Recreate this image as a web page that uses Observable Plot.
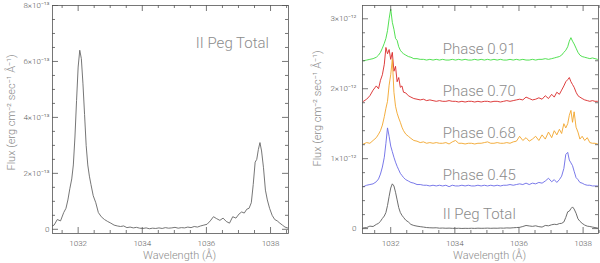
<!DOCTYPE html>
<html><head><meta charset="utf-8">
<script src="https://cdn.jsdelivr.net/npm/d3@7"></script>
<script src="https://cdn.jsdelivr.net/npm/@observablehq/plot@0.6"></script>
<style>
body{margin:0;background:#fff;}
#wrap{display:flex;width:600px;height:263px;}
#wrap svg{font-family:Roboto,"Noto Sans",sans-serif;font-weight:300;}
</style></head><body><div id="wrap"></div>
<script>
// Wavelength grid (Å)
const wavelength = [
1031.15,1031.25,1031.35,1031.45,1031.55,1031.62,1031.68,1031.74,1031.80,1031.85,
1031.90,1031.95,1032.00,1032.05,1032.10,1032.15,1032.20,1032.25,1032.30,1032.35,
1032.40,1032.47,1032.55,1032.63,1032.72,1032.82,1032.92,1033.02,1033.12,1033.22,
1033.32,1033.42,1033.52,1033.62,1033.72,1033.82,1033.92,1034.02,1034.12,1034.22,
1034.32,1034.42,1034.52,1034.62,1034.72,1034.82,1034.92,1035.02,1035.12,1035.22,
1035.32,1035.42,1035.52,1035.62,1035.72,1035.82,1035.92,1036.02,1036.12,1036.22,
1036.32,1036.42,1036.52,1036.62,1036.72,1036.82,1036.92,1037.02,1037.10,1037.18,
1037.26,1037.33,1037.40,1037.46,1037.52,1037.57,1037.62,1037.67,1037.72,1037.78,
1037.84,1037.90,1037.97,1038.05,1038.13,1038.21,1038.29,1038.37,1038.45,1038.53];

// II Peg total flux, units of 1e-13 erg cm^-2 s^-1 Å^-1
const totalFlux = [
0.10,0.15,0.35,0.30,0.60,0.75,1.05,1.45,1.80,2.30,
3.30,4.60,5.80,6.40,6.10,5.20,4.10,3.00,2.30,1.90,
1.60,1.20,0.95,0.60,0.45,0.35,0.28,0.22,0.15,0.12,
0.10,0.12,0.06,0.08,0.05,0.07,0.04,0.03,0.05,0.02,
0.04,0.03,0.05,0.03,0.06,0.04,0.05,0.07,0.04,0.06,
0.05,0.08,0.06,0.10,0.08,0.12,0.15,0.18,0.30,0.45,
0.38,0.32,0.40,0.28,0.22,0.45,0.40,0.55,0.62,0.58,
0.72,0.75,0.95,1.60,2.40,2.50,2.85,3.10,2.80,2.20,
1.40,1.05,0.75,0.50,0.35,0.30,0.22,0.15,0.08,0.05];

// Phase spectra, units of 1e-12 above their own baseline
const phase045 = [
0.00,0.02,0.03,0.04,0.07,0.11,0.18,0.28,0.42,0.62,
0.84,0.72,0.58,0.50,0.42,0.35,0.29,0.24,0.19,0.16,
0.13,0.10,0.08,0.06,0.05,0.03,0.03,0.02,0.02,0.01,
0.02,0.01,0.02,0.01,0.02,0.00,0.02,0.01,0.01,0.02,
0.01,0.02,0.01,0.01,0.02,0.01,0.02,0.01,0.02,0.01,
0.02,0.01,0.02,0.02,0.03,0.02,0.03,0.04,0.03,0.05,
0.03,0.05,0.04,0.06,0.05,0.08,0.12,0.07,0.10,0.06,
0.10,0.15,0.26,0.46,0.49,0.38,0.34,0.30,0.22,0.13,
0.10,0.06,0.05,0.03,0.02,0.02,0.01,0.01,0.01,0.01];
const phase068 = [
0.01,0.03,0.02,0.06,0.10,0.15,0.20,0.28,0.40,0.52,
0.62,0.85,1.00,1.22,0.75,0.55,0.45,0.38,0.32,0.25,
0.20,0.15,0.12,0.09,0.06,0.05,0.03,0.04,0.02,0.03,
0.02,0.03,0.02,0.02,0.03,0.01,0.04,0.06,0.02,0.02,
0.01,0.02,0.02,0.01,0.02,0.02,0.03,0.04,0.02,0.02,
0.03,0.02,0.02,0.03,0.02,0.04,0.05,0.12,0.06,0.10,
0.05,0.08,0.12,0.06,0.14,0.08,0.18,0.10,0.20,0.14,
0.22,0.16,0.30,0.24,0.30,0.42,0.49,0.32,0.47,0.25,
0.18,0.08,0.12,0.06,0.10,0.03,0.02,0.02,0.01,0.01];
const phase070 = [
0.02,0.05,0.10,0.18,0.24,0.20,0.32,0.40,0.55,0.79,
0.70,0.76,0.62,0.72,0.45,0.52,0.30,0.36,0.22,0.24,
0.15,0.14,0.10,0.08,0.06,0.05,0.04,0.05,0.03,0.04,
0.03,0.02,0.03,0.02,0.02,0.03,0.02,0.02,0.01,0.02,
0.01,0.02,0.02,0.01,0.02,0.01,0.02,0.02,0.01,0.02,
0.02,0.01,0.02,0.03,0.02,0.03,0.04,0.05,0.04,0.08,
0.06,0.04,0.05,0.07,0.05,0.10,0.06,0.12,0.08,0.15,
0.12,0.18,0.24,0.30,0.33,0.36,0.30,0.26,0.22,0.15,
0.10,0.08,0.06,0.04,0.03,0.02,0.03,0.02,0.02,0.01];
const phase091 = [
0.00,0.01,0.02,0.03,0.05,0.08,0.12,0.18,0.25,0.32,
0.43,0.60,0.74,0.55,0.45,0.32,0.29,0.20,0.15,0.12,
0.10,0.08,0.06,0.05,0.03,0.03,0.02,0.02,0.01,0.02,
0.01,0.02,0.01,0.02,0.01,0.01,0.02,0.01,0.02,0.01,
0.02,0.01,0.01,0.02,0.01,0.02,0.01,0.02,0.01,0.02,
0.01,0.02,0.01,0.01,0.02,0.01,0.02,0.01,0.02,0.01,
0.01,0.02,0.01,0.02,0.02,0.03,0.02,0.03,0.04,0.05,
0.06,0.08,0.12,0.15,0.20,0.28,0.33,0.28,0.24,0.18,
0.12,0.08,0.06,0.05,0.04,0.03,0.04,0.03,0.02,0.03];

const seriesNames   = ["II Peg Total","Phase 0.45","Phase 0.68","Phase 0.70","Phase 0.91"];
const seriesOffsets = [0, 0.6, 1.2, 1.8, 2.4];           // 1e-12
const seriesColors  = ["#5e5e5e","#6a6ae6","#f2a52a","#d92828","#40dc40"];
const drawOrder     = [0, 3, 2, 1, 4];

const xTicks = [1032, 1034, 1036, 1038];
const xMinor = [1031.5,1032.5,1033,1033.5,1034.5,1035,1035.5,1036.5,1037,1037.5,1038.5];
const leftYTicks = [0, 2, 4, 6, 8];
const leftYMinor = [0.5,1,1.5,2.5,3,3.5,4.5,5,5.5,6.5,7,7.5];
const rightYTicks = [0, 1, 2, 3];
const rightYMinor = [0.2,0.4,0.6,0.8,1.2,1.4,1.6,1.8,2.2,2.4,2.6,2.8];

const TICK = "#555", TXT = "#5a5a5a", LBL = "#8c8c8c";
const W = 300, H = 263;

function frameTicks(FW, FH) {
  return (xs, xm, ys, ym) => [
    Plot.tickX(xs, {x: d => d, insetTop: FH - 6, stroke: TICK, strokeWidth: 0.8}),
    Plot.tickX(xs, {x: d => d, insetBottom: FH - 6, stroke: TICK, strokeWidth: 0.8}),
    Plot.tickX(xm, {x: d => d, insetTop: FH - 3, stroke: TICK, strokeWidth: 0.8}),
    Plot.tickX(xm, {x: d => d, insetBottom: FH - 3, stroke: TICK, strokeWidth: 0.8}),
    Plot.tickY(ys, {y: d => d, insetRight: FW - 6, stroke: TICK, strokeWidth: 0.8}),
    Plot.tickY(ys, {y: d => d, insetLeft: FW - 6, stroke: TICK, strokeWidth: 0.8}),
    Plot.tickY(ym, {y: d => d, insetRight: FW - 3, stroke: TICK, strokeWidth: 0.8}),
    Plot.tickY(ym, {y: d => d, insetLeft: FW - 3, stroke: TICK, strokeWidth: 0.8})
  ];
}

const fluxTitle = "Flux (erg cm\u207B\u00B2 sec\u207B\u00B9 \u00C5\u207B\u00B9)";
const wlTitle = "Wavelength (\u00C5)";

// Left panel
{
  const mL = 52, mR = 12, mT = 5, mB = 30;
  const FW = W - mL - mR, FH = H - mT - mB;
  const rows = wavelength.map((w, i) => ({w, f: totalFlux[i]}));
  const p = Plot.plot({
    width: W, height: H, marginLeft: mL, marginRight: mR, marginTop: mT, marginBottom: mB,
    x: {domain: [1031.2, 1038.56]},
    y: {domain: [-0.15, 8.0]},
    marks: [
      Plot.line(rows, {x: "w", y: "f", stroke: "#666", strokeWidth: 0.9, clip: true}),
      Plot.text(["II Peg Total"], {x: 1035.67, y: 6.64, textAnchor: "start", fontSize: 15, fill: LBL}),
      ...frameTicks(FW, FH)(xTicks, xMinor, leftYTicks, leftYMinor),
      Plot.frame({stroke: TICK, strokeWidth: 0.8}),
      Plot.axisX(xTicks, {tickSize: 0, tickPadding: 7, fontSize: 8, fill: TXT, label: null, tickFormat: d => `${d}`}),
      Plot.axisY(leftYTicks, {tickSize: 0, tickPadding: 3, fontSize: 8, fill: TXT, label: null,
        tickFormat: d => d === 0 ? "0" : `${d}\u00D710\u207B\u00B9\u00B3`}),
      Plot.text([wlTitle], {frameAnchor: "bottom", dy: 25, dx: 9, fontSize: 11, fill: LBL}),
      Plot.text([fluxTitle], {frameAnchor: "left", textAnchor: "middle", dx: -41, dy: -7, rotate: -90, fontSize: 11, fill: LBL})
    ]
  });
  document.getElementById("wrap").appendChild(p);
}

// Right panel
{
  const mL = 62, mR = 2, mT = 5, mB = 30;
  const FW = W - mL - mR, FH = H - mT - mB;
  const phaseSeries = [totalFlux.map(v => v / 10), phase045, phase068, phase070, phase091];
  const lineMarks = drawOrder.map(k => {
    const rows = wavelength.map((w, i) => ({w, f: phaseSeries[k][i] + seriesOffsets[k]}));
    return Plot.line(rows, {x: "w", y: "f", stroke: seriesColors[k], strokeWidth: 0.9, clip: true});
  });
  const labels = seriesNames.map((name, i) => ({name, y: seriesOffsets[i] + (i === 0 ? 0.2 : 0.17)}));
  const p = Plot.plot({
    width: W, height: H, marginLeft: mL, marginRight: mR, marginTop: mT, marginBottom: mB,
    x: {domain: [1031.12, 1038.48]},
    y: {domain: [-0.07, 3.19]},
    marks: [
      ...lineMarks,
      Plot.text(labels, {x: 1033.62, y: "y", text: "name", textAnchor: "start", fontSize: 15, fill: LBL}),
      ...frameTicks(FW, FH)(xTicks, xMinor, rightYTicks, rightYMinor),
      Plot.frame({stroke: TICK, strokeWidth: 0.8}),
      Plot.axisX(xTicks, {tickSize: 0, tickPadding: 7, fontSize: 8, fill: TXT, label: null, tickFormat: d => `${d}`}),
      Plot.axisY(rightYTicks, {tickSize: 0, tickPadding: 6, fontSize: 8, fill: TXT, label: null,
        tickFormat: d => d === 0 ? "0" : `${d}\u00D710\u207B\u00B9\u00B2`}),
      Plot.text([wlTitle], {frameAnchor: "bottom", dy: 25, dx: 9, fontSize: 11, fill: LBL}),
      Plot.text([fluxTitle], {frameAnchor: "left", textAnchor: "middle", dx: -45, dy: -11, rotate: -90, fontSize: 11, fill: LBL})
    ]
  });
  document.getElementById("wrap").appendChild(p);
}
</script>
</body></html>
